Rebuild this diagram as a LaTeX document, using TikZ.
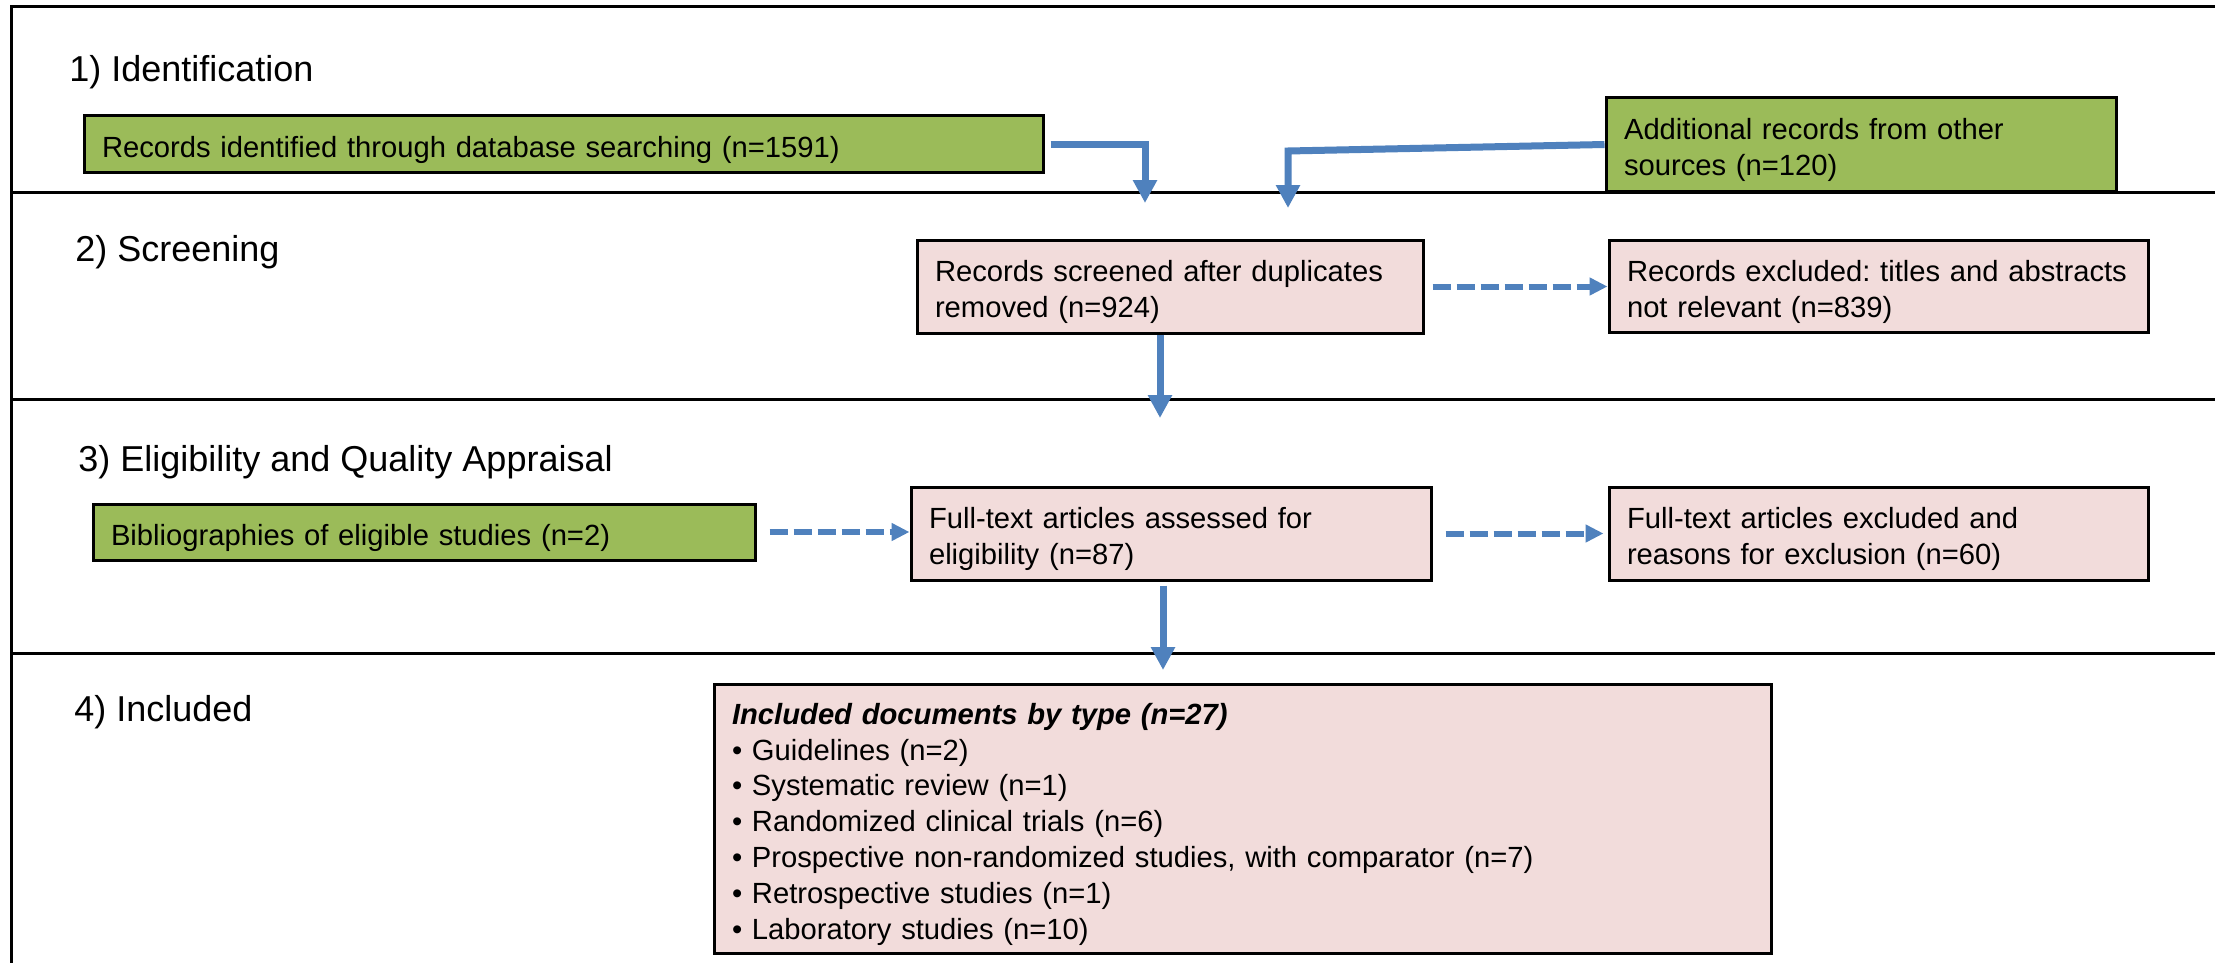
\documentclass[tikz,border=0pt]{standalone}
\usepackage{fontspec}
\setmainfont{Liberation Sans}
\usetikzlibrary{arrows.meta}
\definecolor{boxgreen}{HTML}{9BBB59}
\definecolor{boxpink}{HTML}{F2DCDB}
\definecolor{flowblue}{HTML}{4F81BD}
\newcommand{\GR}[0]{boxgreen}
\newcommand{\PK}[0]{boxpink}
\newcommand{\BL}[0]{flowblue}
\frenchspacing

\begin{document}
\begin{tikzpicture}[x=0.5pt, y=-0.5pt,
  stage/.style={anchor=base west, inner sep=0pt, font=\fontsize{18}{21}\selectfont},
  box/.style={draw, line width=1.5pt, inner xsep=9pt, inner ysep=0pt, align=left,
    font=\fontsize{14.6}{17.9}\selectfont, execute at begin node={\rule{0pt}{16.2pt}}},
  flow/.style={draw=\BL, line width=3.5pt, line join=miter,
    -{Triangle[width=11.5pt, length=11.5pt]}},
  side/.style={draw=\BL, line width=3pt, dash pattern=on 9pt off 3pt,
    -{Triangle[width=8.5pt, length=9pt]}}]

  \fill[white] (0,0) rectangle (2215,963);
  \useasboundingbox (0,0) rectangle (2215,963);

  %% frame and bands
  \draw[line width=1.5pt] (11,963) -- (11,7) -- (2215,7);
  \foreach \y in {192,399,653}
    \draw[line width=1.5pt] (11,\y) -- (2215,\y);

  \node[stage] (ident)  at (69,82)    {1) Identification};
  \node[stage] (screen) at (75,261.5) {2) Screening};
  \node[stage] (elig)   at (78,471.5) {3) Eligibility and Quality Appraisal};
  \node[stage] (incl)   at (74,721)   {4) Included};

  %% boxes
  \node[box, fill=\GR, text width=461.5pt, minimum height=28pt] (records) at (563.5,144)
    {Records identified through database searching (n=1591)};
  \node[box, fill=\GR, text width=237pt, minimum height=46.5pt] (other) at (1861,144.5)
    {Additional records from other\\sources (n=120)};
  \node[box, fill=\PK, text width=235pt, minimum height=46.5pt] (screened) at (1170,286.5)
    {Records screened after duplicates\\removed (n=924)};
  \node[box, fill=\PK, text width=251.5pt, minimum height=46pt] (excluded) at (1878.5,286)
    {Records excluded: titles and abstracts\\not relevant (n=839)};
  \node[box, fill=\GR, text width=313pt, minimum height=28pt] (biblio) at (424,532)
    {Bibliographies of eligible studies (n=2)};
  \node[box, fill=\PK, text width=242pt, minimum height=46.5pt] (fulltext) at (1171,533.5)
    {Full-text articles assessed for\\eligibility (n=87)};
  \node[box, fill=\PK, text width=251.5pt, minimum height=46.5pt] (ftexcl) at (1878.5,533.5)
    {Full-text articles excluded and\\reasons for exclusion (n=60)};
  \node[box, fill=\PK, text width=510.5pt, minimum height=134.5pt] (included) at (1242.5,818.5)
    {{\bfseries\itshape Included documents by type (n=27)}\\
     \textbullet{} Guidelines (n=2)\\
     \textbullet{} Systematic review (n=1)\\
     \textbullet{} Randomized clinical trials (n=6)\\
     \textbullet{} Prospective non-randomized studies, with comparator (n=7)\\
     \textbullet{} Retrospective studies (n=1)\\
     \textbullet{} Laboratory studies (n=10)};

  %% arrows
  \coordinate (dropA) at (1145,203);
  \coordinate (bendB) at (1288,151);
  \coordinate (dropB) at (1288,208);
  \coordinate (dropC) at (1160,418);
  \coordinate (dropE) at (1163,670);

  \draw[flow, shorten <=3pt] (records.east) -- (records.east -| dropA) -- (dropA); %% a - down
  \draw[flow] (other.west) -- (bendB) -- (dropB); %% b - down
  \draw[flow] (screened.south -| dropC) -- (dropC);
  \draw[flow, shorten <=2pt] (fulltext.south -| dropE) -- (dropE);

  \draw[side, shorten <=4pt] (screened.east) -- (screened.east -| excluded.west);
  \draw[side, shorten <=6.5pt] (biblio.east) -- (biblio.east -| fulltext.west);
  \draw[side, shorten <=6.5pt, shorten >=2pt] (fulltext.east) -- (fulltext.east -| ftexcl.west);

\end{tikzpicture}
\end{document}
